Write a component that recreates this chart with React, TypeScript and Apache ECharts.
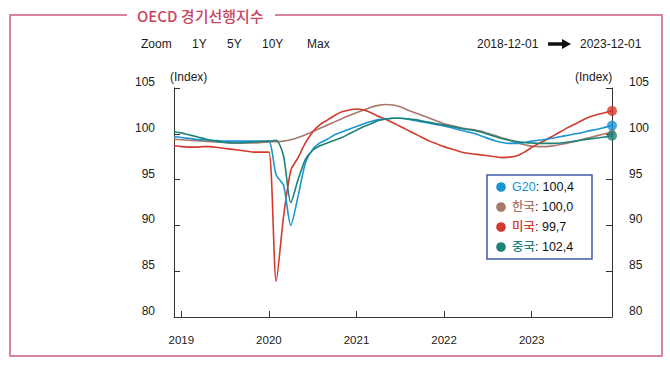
import React, { useEffect, useRef } from 'react';
import * as echarts from 'echarts';

// Monthly categories 2018-12 .. 2023-12
const months: string[] = [];
for (let i = 0; i <= 60; i++) {
  const t = 2018 * 12 + 11 + i;
  const y = Math.floor(t / 12);
  const m = (t % 12) + 1;
  months.push(`${y}-${String(m).padStart(2, '0')}`);
}

const yearTicks = ['2019', '2020', '2021', '2022', '2023'];
const yTicks = [80, 85, 90, 95, 100, 105];

const g20 = [
  99.7, 99.6, 99.5, 99.4, 99.35, 99.3, 99.25, 99.2, 99.2, 99.2, 99.2, 99.2, 99.2,
  99.2, 95.5, 94.4, 90.0, 93.2, 96.8, 98.3, 99.0, 99.4, 99.9, 100.2, 100.5,
  100.8, 101.1, 101.35, 101.55, 101.65, 101.7, 101.7, 101.6, 101.45, 101.3, 101.15, 101.0,
  100.85, 100.65, 100.45, 100.25, 100.05, 99.8, 99.5, 99.25, 99.05, 98.95, 98.95, 99.05,
  99.2, 99.3, 99.4, 99.55, 99.7, 99.85, 100.0, 100.15, 100.35, 100.5, 100.7, 100.9,
];

const korea = [
  99.4, 99.35, 99.3, 99.25, 99.2, 99.15, 99.1, 99.05, 99.0, 99.0, 99.0, 99.0, 99.05,
  99.1, 99.15, 99.2, 99.35, 99.6, 99.9, 100.25, 100.6, 100.95, 101.3, 101.65, 102.0,
  102.3, 102.6, 102.9, 103.1, 103.2, 103.15, 102.95, 102.6, 102.3, 102.0, 101.7, 101.4,
  101.1, 100.9, 100.7, 100.55, 100.45, 100.3, 100.05, 99.8, 99.55, 99.3, 99.0, 98.8,
  98.65, 98.6, 98.6, 98.7, 98.85, 99.0, 99.2, 99.4, 99.6, 99.8, 100.0, 100.2,
];

const usa = [
  98.7, 98.6, 98.55, 98.55, 98.6, 98.6, 98.5, 98.4, 98.3, 98.2, 98.1, 98.0, 98.0,
  98.0, 83.9, 90.9, 96.0, 97.4, 99.0, 100.2, 101.0, 101.5, 102.0, 102.4, 102.6,
  102.7, 102.6, 102.3, 101.9, 101.6, 101.2, 100.8, 100.4, 100.0, 99.6, 99.2, 98.9,
  98.6, 98.35, 98.1, 97.9, 97.8, 97.7, 97.6, 97.5, 97.4, 97.45, 97.6, 98.0,
  98.5, 98.95, 99.35, 99.8, 100.25, 100.7, 101.1, 101.5, 101.85, 102.1, 102.3, 102.5,
];

const china = [
  100.2, 100.1, 99.9, 99.7, 99.5, 99.3, 99.15, 99.05, 99.0, 99.0, 99.05, 99.1, 99.15,
  99.2, 99.3, 97.6, 92.5, 95.0, 97.2, 98.2, 98.7, 99.0, 99.3, 99.6, 100.0,
  100.4, 100.8, 101.1, 101.45, 101.6, 101.7, 101.7, 101.65, 101.55, 101.4, 101.25, 101.1,
  100.95, 100.8, 100.65, 100.5, 100.4, 100.2, 99.95, 99.7, 99.45, 99.3, 99.15, 99.05,
  99.0, 98.95, 98.95, 98.95, 99.0, 99.1, 99.2, 99.35, 99.45, 99.55, 99.65, 99.8,
];

const legendNames = ['G20', '한국', '미국', '중국'];
const legendValues = ['100,4', '100,0', '99,7', '102,4'];

const COLORS = {
  g20: '#1a94d2',
  korea: '#a8786a',
  usa: '#d43a2e',
  china: '#1e8278',
};
const legendColors = [COLORS.g20, COLORS.korea, COLORS.usa, COLORS.china];

const FONT = '"Liberation Sans", Arial, "Noto Sans CJK KR", sans-serif';
const FRAME = '#d7859b';

export default function App() {
  const ref = useRef<HTMLDivElement>(null);

  useEffect(() => {
    if (!ref.current) return;
    const chart = echarts.init(ref.current, null, { renderer: 'svg' });

    const isJan = (_i: number, v: string) => v.endsWith('-01');
    const last = months.length - 1;

    const lineSeries = (name: string, data: number[], color: string, z: number) => ({
      name,
      type: 'line',
      data,
      smooth: 0.25,
      symbol: 'none',
      z,
      lineStyle: { color, width: 1.6 },
    });
    const endPoint = (data: number[], color: string, z: number, size: number) => ({
      type: 'scatter',
      data: [[months[last], data[last]]],
      symbol: 'circle',
      symbolSize: size,
      itemStyle: { color },
      clip: false,
      z,
    });

    const yAxisCommon = {
      type: 'value',
      min: yTicks[0],
      max: yTicks[yTicks.length - 1],
      interval: 5,
      splitLine: { show: false },
      axisLine: { show: true, lineStyle: { color: '#333', width: 1 } },
      axisTick: { show: true, inside: true, length: 6, lineStyle: { color: '#333' } },
    };

    const legendRows = [187, 207, 227, 247];

    const graphic: any[] = [
      // frame
      { type: 'line', shape: { x1: 10, y1: 15, x2: 127, y2: 15 }, style: { stroke: FRAME, lineWidth: 2 } },
      { type: 'line', shape: { x1: 275, y1: 15, x2: 663, y2: 15 }, style: { stroke: FRAME, lineWidth: 2 } },
      { type: 'line', shape: { x1: 10, y1: 14, x2: 10, y2: 356 }, style: { stroke: FRAME, lineWidth: 2 } },
      { type: 'line', shape: { x1: 662, y1: 14, x2: 662, y2: 356 }, style: { stroke: FRAME, lineWidth: 2 } },
      { type: 'line', shape: { x1: 9, y1: 356, x2: 663, y2: 356 }, style: { stroke: FRAME, lineWidth: 2 } },
      {
        type: 'text', x: 137, y: 15,
        style: { text: 'OECD 경기선행지수', fill: '#c9465f', fontSize: 15, fontWeight: 500,
          fontFamily: '"Noto Sans CJK KR", sans-serif', verticalAlign: 'middle', align: 'left' },
      },
      // header controls
      ...[['Zoom', 141], ['1Y', 192], ['5Y', 227], ['10Y', 262], ['Max', 307]].map(([t, x]) => ({
        type: 'text', x, y: 44,
        style: { text: t, fill: '#1a1a1a', fontSize: 12, fontFamily: FONT, verticalAlign: 'middle' },
      })),
      { type: 'text', x: 477, y: 44, style: { text: '2018-12-01', fill: '#1a1a1a', fontSize: 12, fontFamily: FONT, verticalAlign: 'middle' } },
      { type: 'line', shape: { x1: 548, y1: 44, x2: 564, y2: 44 }, style: { stroke: '#111', lineWidth: 3.5 } },
      { type: 'polygon', shape: { points: [[562, 39], [571, 44], [562, 49]] }, style: { fill: '#111' } },
      { type: 'text', x: 580, y: 44, style: { text: '2023-12-01', fill: '#1a1a1a', fontSize: 12, fontFamily: FONT, verticalAlign: 'middle' } },
      // axis units
      { type: 'text', x: 170, y: 77, style: { text: '(Index)', fill: '#1a1a1a', fontSize: 12, fontFamily: FONT, verticalAlign: 'middle' } },
      { type: 'text', x: 575, y: 77, style: { text: '(Index)', fill: '#1a1a1a', fontSize: 12, fontFamily: FONT, verticalAlign: 'middle' } },
      // legend box
      {
        type: 'rect', z: 100, shape: { x: 487, y: 175, width: 105, height: 84 },
        style: { fill: '#fff', stroke: '#3d5ca6', lineWidth: 1.5 },
      },
      ...legendNames.map((n, i) => ({
        type: 'circle', z: 101, shape: { cx: 501, cy: legendRows[i], r: 4.8 },
        style: { fill: legendColors[i] },
      })),
      ...legendNames.map((n, i) => ({
        type: 'text', z: 101, x: 512, y: legendRows[i],
        style: {
          text: `{n|${n}}{v|: ${legendValues[i]}}`,
          verticalAlign: 'middle',
          rich: {
            n: { fill: legendColors[i], fontSize: 12.5, fontFamily: FONT, fontWeight: 500 },
            v: { fill: '#111', fontSize: 12.5, fontFamily: FONT },
          },
        },
      })),
    ];

    chart.setOption({
      animation: false,
      backgroundColor: '#fff',
      grid: { left: 174, right: 58, top: 88, bottom: 52, containLabel: false },
      xAxis: {
        type: 'category',
        data: months,
        boundaryGap: false,
        axisLine: { lineStyle: { color: '#333', width: 1 } },
        axisTick: { inside: true, length: 6, interval: isJan, lineStyle: { color: '#333' } },
        axisLabel: {
          interval: isJan,
          formatter: (v: string) => yearTicks.find((y) => v.startsWith(y)) || '',
          margin: 17,
          fontSize: 11.5,
          color: '#1a1a1a',
          fontFamily: FONT,
        },
        splitLine: { show: false },
      },
      yAxis: [
        {
          ...yAxisCommon,
          position: 'left',
          axisLabel: { margin: 19, fontSize: 12, color: '#1a1a1a', fontFamily: FONT, verticalAlign: 'bottom' },
        },
        {
          ...yAxisCommon,
          position: 'right',
          axisLabel: { margin: 17, fontSize: 12, color: '#1a1a1a', fontFamily: FONT, verticalAlign: 'bottom' },
        },
      ],
      series: [
        lineSeries('한국', korea, COLORS.korea, 2),
        lineSeries('미국', usa, COLORS.usa, 3),
        lineSeries('G20', g20, COLORS.g20, 4),
        lineSeries('중국', china, COLORS.china, 5),
        endPoint(korea, COLORS.korea, 10, 6),
        endPoint(usa, COLORS.usa, 11, 10),
        endPoint(g20, COLORS.g20, 12, 10),
        endPoint(china, COLORS.china, 13, 10),
      ],
      graphic,
    });

    return () => chart.dispose();
  }, []);

  return (
    <div
      ref={ref}
      style={{ position: 'fixed', left: 0, top: 0, width: 670, height: 369, background: '#fff' }}
    />
  );
}
